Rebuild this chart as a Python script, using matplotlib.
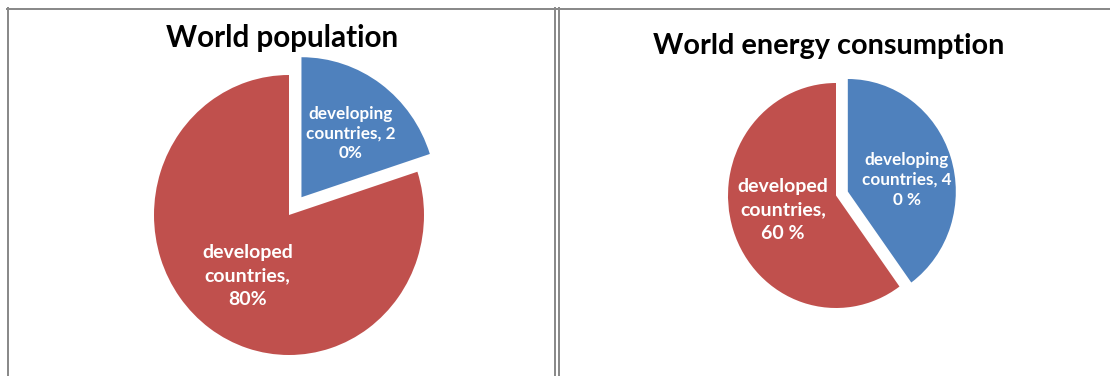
import math
import matplotlib
matplotlib.use("Agg")
import matplotlib.pyplot as plt
from matplotlib.lines import Line2D

W, H, DPI = 1110, 376, 100

# ---- data ----
categories = ["developing countries", "developed countries"]
population_share = [20, 80]
energy_share = [40, 60]
population_labels = ["developing\ncountries, 2\n0%", "developed\ncountries,\n80%"]
energy_labels = ["developing\ncountries, 4\n0 %", "developed\ncountries,\n60 %"]
titles = ["World population", "World energy consumption"]

colors = ["#4F81BD", "#C0504D"]
FONT = ["Lato", "DejaVu Sans"]

fig = plt.figure(figsize=(W / DPI, H / DPI), dpi=DPI)
fig.patch.set_facecolor("white")


def add_pie_axes(cx, cy, rx, ry):
    span = 1.5
    left = (cx - span * rx) / W
    bottom = (H - (cy + span * ry)) / H
    ax = fig.add_axes([left, bottom, 2 * span * rx / W, 2 * span * ry / H])
    return ax, span


def draw_pie(ax, span, values, labels, explode, ldist, dang, sizes, lsp):
    wedges, _ = ax.pie(values, colors=colors, startangle=90, counterclock=False,
                       explode=explode, wedgeprops=dict(linewidth=0))
    for w, lab, d, da, s, ls in zip(wedges, labels, ldist, dang, sizes, lsp):
        thm = math.radians((w.theta1 + w.theta2) / 2 + da)
        cx, cy = w.center
        ax.text(cx + d * w.r * math.cos(thm), cy + d * w.r * math.sin(thm), lab,
                ha="center", va="center", color="white", fontweight="bold",
                fontsize=s, family=FONT, linespacing=ls)
    ax.set_aspect("auto")
    ax.set_xlim(-span, span)
    ax.set_ylim(-span, span)
    ax.axis("off")


# left pie: World population
axL, spanL = add_pie_axes(289, 215, 135, 140)
draw_pie(axL, spanL, population_share, population_labels, [0.157, 0],
         [0.584, 0.533], [-2.5, 1.0], [12.3, 14], [1.27, 1.45])

# right pie: World energy consumption
axR, spanR = add_pie_axes(836, 195.5, 108, 112.5)
draw_pie(axR, spanR, energy_share, energy_labels, [0.115, 0],
         [0.556, 0.507], [-7.4, -3.3], [12.3, 14], [1.3, 1.45])

# titles
fig.text(282 / W, 1 - 38.5 / H, titles[0], ha="center", va="center",
         fontsize=21.3, fontweight="bold", family=FONT, color="black")
fig.text(829 / W, 1 - 46 / H, titles[1], ha="center", va="center",
         fontsize=20.8, fontweight="bold", family=FONT, color="black")

# panel borders
border = "#8a8a8a"
def vline(x, y0, y1, lw=2):
    fig.add_artist(Line2D([x / W, x / W], [1 - y0 / H, 1 - y1 / H], color=border,
                          linewidth=lw * 72 / DPI, transform=fig.transFigure))
def hline(y, x0, x1, lw=2):
    fig.add_artist(Line2D([x0 / W, x1 / W], [1 - y / H, 1 - y / H], color=border,
                          linewidth=lw * 72 / DPI, transform=fig.transFigure))

hline(8.5, 7, W)
vline(8, 8, H)
vline(555, 8, H)
vline(558.5, 8, H)

fig.savefig("out.png", dpi=DPI, facecolor="white")
